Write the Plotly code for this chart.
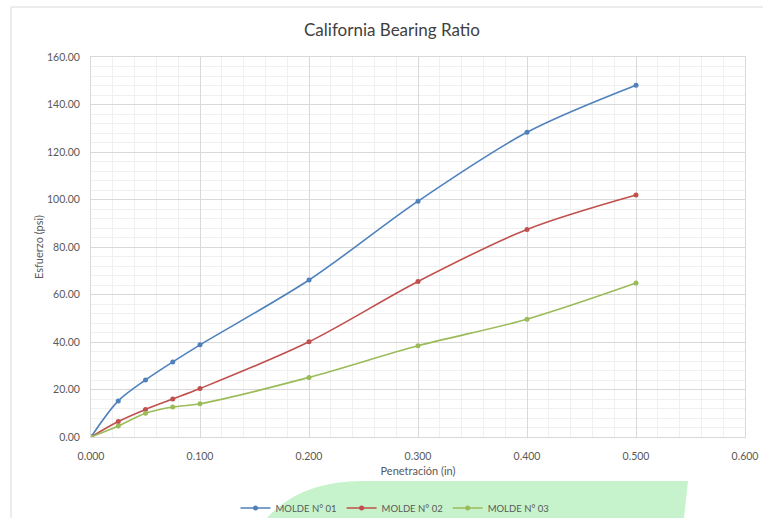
import plotly.graph_objects as go

# Penetration (in) and stress (psi) readings for the three moulds
penetracion = [0.000, 0.025, 0.050, 0.075, 0.100, 0.200, 0.300, 0.400, 0.500]
molde_01 = [0.0, 15.2, 24.0, 31.6, 38.8, 66.1, 99.3, 128.3, 148.1]
molde_02 = [0.0, 6.5, 11.6, 16.0, 20.4, 40.1, 65.5, 87.4, 101.9]
molde_03 = [0.0, 4.6, 10.0, 12.6, 14.0, 25.1, 38.4, 49.6, 64.8]

series_names = ["MOLDE N° 01", "MOLDE N° 02", "MOLDE N° 03"]
series_colors = ["#4F81BD", "#C0504D", "#9BBB59"]

W, H = 763, 518
L, R, T, B = 91, 18, 57, 81
PW, PH = W - L - R, H - T - B


def px(x):
    return (x - L) / PW


def py(y):
    return (H - B - y) / PH


FONT = "Lato"
TXT = "#595959"

fig = go.Figure()
for name, vals, col in zip(series_names, [molde_01, molde_02, molde_03], series_colors):
    fig.add_trace(go.Scatter(
        x=penetracion, y=vals, name=name, mode="lines+markers",
        line=dict(color=col, width=1.6, shape="spline", smoothing=0.9),
        marker=dict(color=col, size=5, symbol="circle"),
    ))

# light green backdrop behind the legend
green_path = (
    f"M {px(267)},{py(518)} Q {px(300)},{py(481)} {px(363)},{py(481)} "
    f"L {px(688)},{py(481)} L {px(684)},{py(518)} Z"
)

fig.update_layout(
    width=W, height=H,
    margin=dict(l=L, r=R, t=T, b=B, autoexpand=False),
    paper_bgcolor="white", plot_bgcolor="white",
    font=dict(family=FONT, color=TXT, size=10),
    title=dict(text="California Bearing Ratio", x=392 / W, xanchor="center",
               y=1 - 30 / H, yanchor="middle",
               font=dict(family=FONT, size=17, color="#404040")),
    showlegend=True,
    legend=dict(orientation="h", x=px(395), xanchor="center",
                y=py(508), yanchor="middle", bgcolor="rgba(0,0,0,0)",
                font=dict(size=9.5, color=TXT), itemwidth=30, tracegroupgap=0),
    shapes=[
        dict(type="path", path=green_path, xref="paper", yref="paper",
             fillcolor="#C6F3CB", line=dict(width=0), layer="below"),
        dict(type="rect", xref="paper", yref="paper",
             x0=px(11), y0=py(7), x1=px(780), y1=py(540),
             line=dict(color="#D9D9D9", width=1), fillcolor="rgba(0,0,0,0)",
             layer="below"),
    ],
    xaxis=dict(
        range=[0, 0.6], tick0=0, dtick=0.1, tickformat=".3f",
        showgrid=True, gridcolor="#D9D9D9", gridwidth=1,
        minor=dict(dtick=0.02, showgrid=True, gridcolor="#F0F0F0", gridwidth=1),
        showline=True, linecolor="#D9D9D9", mirror=True, zeroline=False,
        ticks="", ticklabelstandoff=9, tickfont=dict(size=10.5, color=TXT),
        title=dict(text="Penetración (in)", font=dict(size=11, color=TXT), standoff=6),
    ),
    yaxis=dict(
        range=[0, 160], tick0=0, dtick=20, tickformat=".2f",
        showgrid=True, gridcolor="#D9D9D9", gridwidth=1,
        minor=dict(dtick=4, showgrid=True, gridcolor="#F0F0F0", gridwidth=1),
        showline=True, linecolor="#D9D9D9", mirror=True, zeroline=False,
        ticks="", ticklabelstandoff=8, tickfont=dict(size=10.5, color=TXT),
        title=dict(text="Esfuerzo (psi)", font=dict(size=11, color=TXT), standoff=1),
    ),
)

fig.write_html("out.html")
